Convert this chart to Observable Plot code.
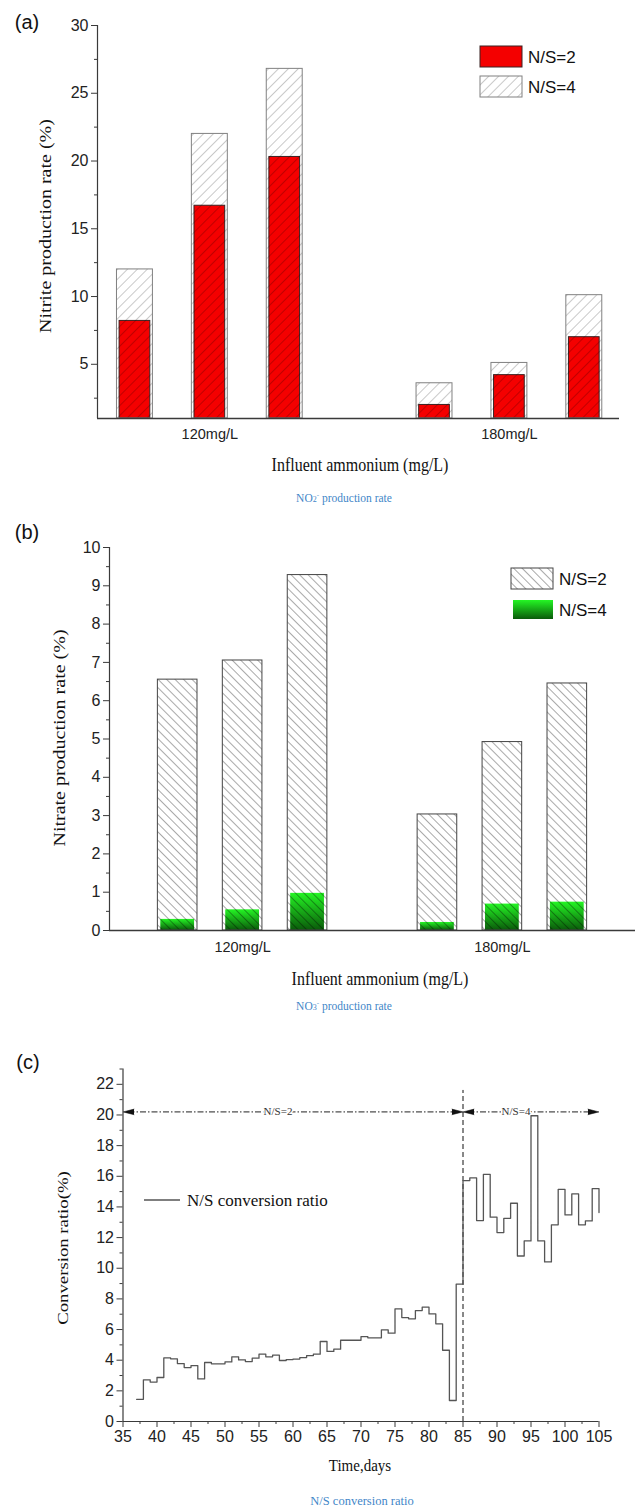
<!DOCTYPE html>
<html><head><meta charset="utf-8">
<script src="https://cdn.jsdelivr.net/npm/d3@7"></script>
<script src="https://cdn.jsdelivr.net/npm/@observablehq/plot@0.6"></script>
<style>
body{margin:0;background:#fff;}
#wrap{position:relative;width:635px;height:1508px;overflow:hidden;background:#fff;}
.p{position:absolute;left:0;}
.t{position:absolute;white-space:nowrap;line-height:1;transform:translate(-50%,-50%);color:#111;}
.sans{font-family:"Liberation Sans",Arial,sans-serif;}
.serif{font-family:"Liberation Serif","Times New Roman",serif;}
.rot{transform:translate(-50%,-50%) rotate(-90deg) scaleX(1.25);}
.hs{transform:translate(-50%,-50%) scaleY(1.15);}
.cap{color:#3f86c8;font-size:11.5px;}
</style></head>
<body><div id="wrap"></div>
<script>
// ---------------- data ----------------
const groups = ["120mg/L", "180mg/L"];
const runs = [1, 2, 3];
// panel (a) nitrite production rate (%)
const nitriteNS2 = [8.2, 16.7, 20.3, 2.0, 4.2, 7.0];
const nitriteNS4 = [12.0, 22.0, 26.8, 3.6, 5.1, 10.1];
// panel (b) nitrate production rate (%)
const nitrateNS2 = [6.55, 7.05, 9.28, 3.03, 4.92, 6.45];
const nitrateNS4 = [0.29, 0.54, 0.97, 0.21, 0.69, 0.74];
// panel (c) conversion ratio (%)
const days = [37,38,39,40,41,42,43,44,45,46,47,48,49,50,51,52,53,54,55,56,57,58,59,60,61,62,63,64,65,66,67,68,69,70,71,72,73,74,75,76,77,78,79,80,81,82,83,84,85,86,87,88,89,90,91,92,93,94,95,96,97,98,99,100,101,102,103,104,105];
const conversion = [1.45,2.72,2.57,2.87,4.15,4.09,3.78,3.52,3.65,2.78,3.85,3.76,3.76,3.89,4.22,4.02,3.91,4.13,4.39,4.22,4.33,3.98,4.04,4.07,4.17,4.30,4.39,5.22,4.57,4.72,5.30,5.30,5.30,5.54,5.46,5.46,5.98,5.76,7.35,6.78,6.70,7.24,7.46,7.02,6.37,4.65,1.37,8.97,15.72,15.89,13.11,16.13,13.33,12.33,13.26,14.24,10.80,11.78,19.95,11.78,10.41,12.83,15.15,13.48,14.85,12.83,13.09,15.20,13.63];
const phases = [{label: "N/S=2", start: 35, end: 85}, {label: "N/S=4", start: 85, end: 105}];
const phaseBoundary = 85;
const phaseLineLevel = 20.2;
// ticks
const yTicksA = [5,10,15,20,25,30];
const yMinorA = [2.5,7.5,12.5,17.5,22.5,27.5];
const yTicksB = [0,1,2,3,4,5,6,7,8,9,10];
const yMinorB = [0.5,1.5,2.5,3.5,4.5,5.5,6.5,7.5,8.5,9.5];
const yTicksC = [0,2,4,6,8,10,12,14,16,18,20,22];
const yMinorC = [1,3,5,7,9,11,13,15,17,19,21,23];
const xTicksC = [35,40,45,50,55,60,65,70,75,80,85,90,95,100,105];
const xMinorC = [37.5,42.5,47.5,52.5,57.5,62.5,67.5,72.5,77.5,82.5,87.5,92.5,97.5,102.5];

// ---------------- helpers ----------------
const W = 635;
const wrap = document.getElementById("wrap");
const AX = "#3a3a3a";
const font = "Liberation Sans, Arial, sans-serif";
const TICK = 16;
function place(el, top){ el.classList.add("p"); el.style.top = top + "px"; wrap.appendChild(el); }
function txt(str, cx, cy, cls, size){
  const d = document.createElement("div");
  d.className = "t " + cls; d.textContent = str;
  d.style.left = cx + "px"; d.style.top = cy + "px"; d.style.fontSize = size + "px";
  wrap.appendChild(d); return d;
}
function rows(v2, v4){
  return groups.flatMap((g, gi) => runs.map((r, ri) => ({group: g, run: r, pos: gi * 4 + ri + 1, ns2: v2[gi * 3 + ri], ns4: v4[gi * 3 + ri]})));
}
const groupMid = groups.map((g, gi) => gi * 4 + 2);
function defsHTML(p){ return `
<pattern id="${p}hatchA" patternUnits="userSpaceOnUse" width="7" height="7" patternTransform="rotate(45)">
  <line x1="0" y1="0" x2="0" y2="7" stroke="#000" stroke-opacity="0.42" stroke-width="1"/></pattern>
<pattern id="${p}hatchB" patternUnits="userSpaceOnUse" width="6" height="6" patternTransform="rotate(-45)">
  <line x1="0" y1="0" x2="0" y2="6" stroke="#000" stroke-opacity="0.75" stroke-width="0.9"/></pattern>
<linearGradient id="${p}greenGrad" x1="0" y1="0" x2="0" y2="1">
  <stop offset="0" stop-color="#24f524"/><stop offset="1" stop-color="#0a5a0a"/></linearGradient>`; }
function legendText(g, x, y, s){
  g.append("text").attr("x", x).attr("y", y).text(s).attr("font-size", 17).attr("fill", "#111")
    .attr("text-anchor", "start").attr("font-family", font);
}

// ---------------- panel (a) ----------------
const rowsA = rows(nitriteNS2, nitriteNS4);
const xDomA = [0.5, 7.47];
const plotA = Plot.plot({
  width: W, height: 480, marginLeft: 97, marginRight: 16, marginTop: 25, marginBottom: 62,
  style: {fontFamily: font, fontSize: "15px", color: "#222", background: "transparent"},
  x: {domain: xDomA, axis: null},
  y: {domain: [1, 30], axis: null},
  marks: [
    Plot.rectY(rowsA, {x1: d => d.pos - 0.205, x2: d => d.pos + 0.205, y1: 1, y2: "ns2", fill: "#f40000", stroke: "#3a2222", strokeWidth: 1}),
    Plot.rectY(rowsA, {x1: d => d.pos - 0.24, x2: d => d.pos + 0.24, y1: 1, y2: "ns4", fill: "url(#a_hatchA)", stroke: "#808080", strokeWidth: 1}),
    Plot.ruleX([xDomA[0]], {y1: 1, y2: 30, stroke: AX, strokeWidth: 1.2}),
    Plot.ruleY([1], {x1: xDomA[0], x2: xDomA[1], stroke: AX, strokeWidth: 1.4}),
    Plot.axisY(yTicksA, {tickSize: 6, tickPadding: 3, stroke: AX, fill: "#222", fontSize: TICK, label: null}),
    Plot.axisY(yMinorA, {tickSize: 3, stroke: AX, tickFormat: () => "", label: null}),
    Plot.axisX(groupMid, {tickSize: 0, tickPadding: 10, fill: "#222", fontSize: 14.5, label: null, tickFormat: d => groups[(d - 2) / 4]})
  ]
});
d3.select(plotA).insert("defs", ":first-child").html(defsHTML("a_"));
{
  const g = d3.select(plotA).append("g");
  g.append("rect").attr("x", 480).attr("y", 46).attr("width", 42).attr("height", 21).attr("fill", "#f40000").attr("stroke", "#3a2222");
  g.append("rect").attr("x", 480).attr("y", 76).attr("width", 42).attr("height", 21).attr("fill", "url(#a_hatchA)").attr("stroke", "#808080");
  legendText(g, 528, 63, "N/S=2");
  legendText(g, 528, 93, "N/S=4");
}
place(plotA, 0);
txt("(a)", 27, 22, "sans", 20);
txt("Nitrite production rate (%)", 46, 226, "serif rot", 16);
txt("Influent ammonium (mg/L)", 360, 465, "serif hs", 16);
const capA = txt("", 344, 498, "serif cap", 11.5);
capA.innerHTML = "NO<span style='font-size:8px'>2</span><sup style='font-size:7px'>-</sup> production rate";

// ---------------- panel (b) ----------------
const rowsB = rows(nitrateNS2, nitrateNS4);
const xDomB = [-0.05, 8.05];
const topB = 505;
const plotB = Plot.plot({
  width: W, height: 460, marginLeft: 109, marginRight: 0, marginTop: 42, marginBottom: 35,
  style: {fontFamily: font, fontSize: "15px", color: "#222", background: "transparent"},
  x: {domain: xDomB, axis: null},
  y: {domain: [0, 10], axis: null},
  marks: [
    Plot.rectY(rowsB, {x1: d => d.pos - 0.26, x2: d => d.pos + 0.26, y1: 0, y2: "ns4", fill: "url(#b_greenGrad)"}),
    Plot.rectY(rowsB, {x1: d => d.pos - 0.305, x2: d => d.pos + 0.305, y1: 0, y2: "ns2", fill: "url(#b_hatchB)", stroke: "#444", strokeWidth: 1}),
    Plot.ruleX([xDomB[0]], {y1: 0, y2: 10, stroke: AX, strokeWidth: 1.2}),
    Plot.ruleY([0], {x1: xDomB[0], x2: xDomB[1], stroke: AX, strokeWidth: 1.4}),
    Plot.axisY(yTicksB, {tickSize: 6, tickPadding: 3, stroke: AX, fill: "#222", fontSize: TICK, label: null}),
    Plot.axisY(yMinorB, {tickSize: 3, stroke: AX, tickFormat: () => "", label: null}),
    Plot.axisX(groupMid, {tickSize: 0, tickPadding: 11, fill: "#222", fontSize: 14.5, label: null, tickFormat: d => groups[(d - 2) / 4]})
  ]
});
d3.select(plotB).insert("defs", ":first-child").html(defsHTML("b_"));
{
  const g = d3.select(plotB).append("g");
  g.append("rect").attr("x", 511).attr("y", 568 - topB).attr("width", 42).attr("height", 21).attr("fill", "url(#b_hatchB)").attr("stroke", "#444");
  g.append("rect").attr("x", 513).attr("y", 600 - topB).attr("width", 40).attr("height", 19).attr("fill", "url(#b_greenGrad)");
  legendText(g, 559, 585 - topB, "N/S=2");
  legendText(g, 559, 616 - topB, "N/S=4");
}
place(plotB, topB);
txt("(b)", 27, 532, "sans", 20);
txt("Nitrate production rate (%)", 60, 738, "serif rot", 16);
txt("Influent ammonium (mg/L)", 380, 979, "serif hs", 16);
const capB = txt("", 344, 1006, "serif cap", 11.5);
capB.innerHTML = "NO<span style='font-size:8px'>3</span><sup style='font-size:7px'>-</sup> production rate";

// ---------------- panel (c) ----------------
const topC = 1040;
const series = days.map((d, i) => ({day: d, value: conversion[i]}));
const heads = phases.flatMap(p => [
  {x: p.start, rotate: -90}, {x: p.end, rotate: 90}
]);
const plotC = Plot.plot({
  width: W, height: 420, marginLeft: 122.5, marginRight: 36.5, marginTop: 28.5, marginBottom: 39,
  style: {fontFamily: font, fontSize: "15px", color: "#222", background: "transparent"},
  x: {domain: [35, 105], axis: null},
  y: {domain: [0, 23], axis: null},
  marks: [
    Plot.ruleX([phaseBoundary], {y1: 0, y2: 21.6, stroke: "#111", strokeWidth: 1, strokeDasharray: "5,3"}),
    Plot.ruleY(phases, {x1: "start", x2: "end", y: () => phaseLineLevel, stroke: "#222", strokeWidth: 1, strokeDasharray: "6,2,1.5,2", insetLeft: 6, insetRight: 6}),
    Plot.vector(heads, {x: "x", y: () => phaseLineLevel, rotate: "rotate", length: 11, r: 2.8, shape: "spike", anchor: "end", fill: "#111", stroke: "#111", strokeWidth: 0.5}),
    Plot.text(phases, {x: p => (p.start + p.end) / 2, y: () => phaseLineLevel, dx: -15, text: "label", fill: "#333", stroke: "white", strokeWidth: 3, fontFamily: "Liberation Serif, serif", fontSize: 11}),
    Plot.line(series, {x: "day", y: "value", curve: "step-after", stroke: "#555", strokeWidth: 1.3}),
    Plot.ruleX([35], {y1: 0, y2: 23, stroke: AX, strokeWidth: 1.2}),
    Plot.ruleY([0], {x1: 35, x2: 105, stroke: AX, strokeWidth: 1.2}),
    Plot.axisY(yTicksC, {tickSize: 6, tickPadding: 3, stroke: AX, fill: "#222", fontSize: TICK, label: null}),
    Plot.axisY(yMinorC, {tickSize: 3, stroke: AX, tickFormat: () => "", label: null}),
    Plot.axisX(xTicksC, {tickSize: 6, tickPadding: 3, stroke: AX, fill: "#222", fontSize: TICK, label: null}),
    Plot.axisX(xMinorC, {tickSize: 3, stroke: AX, tickFormat: () => "", label: null})
  ]
});
{
  const g = d3.select(plotC).append("g");
  g.append("line").attr("x1", 144).attr("x2", 180).attr("y1", 1200 - topC).attr("y2", 1200 - topC).attr("stroke", "#555").attr("stroke-width", 1.3);
  g.append("text").attr("x", 187).attr("y", 1206 - topC).text("N/S conversion ratio").attr("font-size", 17)
    .attr("font-family", "Liberation Serif, serif").attr("fill", "#111").attr("text-anchor", "start");
}
place(plotC, topC);
txt("(c)", 28, 1062, "sans", 20);
txt("Conversion ratio(%)", 63, 1248, "serif rot", 15);
txt("Time,days", 360, 1466, "serif hs", 15);
txt("N/S conversion ratio", 362, 1501, "serif cap", 12.5);
</script>
</body></html>
